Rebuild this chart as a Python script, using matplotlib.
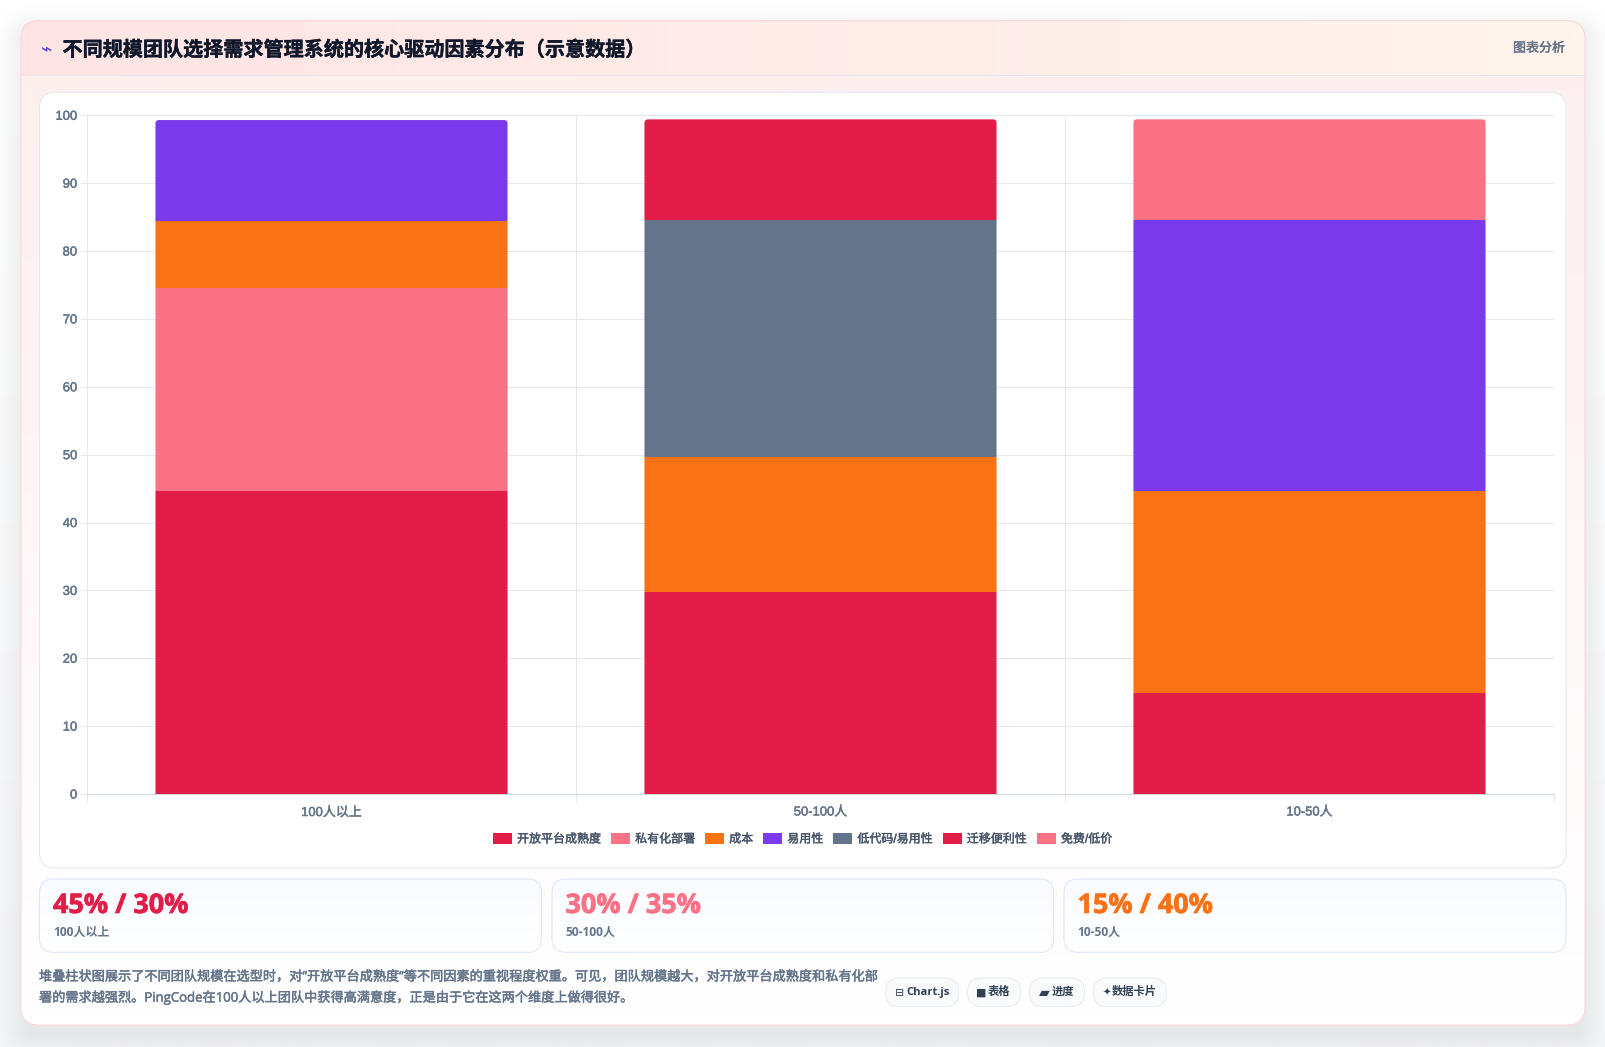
import numpy as np
import matplotlib
matplotlib.use("Agg")
import matplotlib.pyplot as plt
import matplotlib.patheffects as pe
from matplotlib.patches import FancyBboxPatch, Rectangle
from matplotlib.transforms import IdentityTransform

W, H = 1606, 1047
CJK = "Noto Sans CJK SC"
LATIN = "Liberation Sans"
plt.rcParams["font.family"] = [LATIN, CJK, "DejaVu Sans"]

# ---- data ----
title = "不同规模团队选择需求管理系统的核心驱动因素分布（示意数据）"
categories = ["100人以上", "50-100人", "10-50人"]
open_platform = [44.7, 29.8, 14.9]
private_deploy = [29.8, 0, 0]
cost = [9.9, 19.9, 29.8]
ease_of_use = [14.9, 0, 39.8]
low_code = [0, 34.8, 0]
migration = [0, 14.9, 0]
free_low = [0, 0, 14.9]
series_names = ["开放平台成熟度", "私有化部署", "成本", "易用性", "低代码/易用性", "迁移便利性", "免费/低价"]
series_values = [open_platform, private_deploy, cost, ease_of_use, low_code, migration, free_low]
series_colors = ["#e11d48", "#fb7185", "#f97316", "#7c3aed", "#64748b", "#e11d48", "#fb7185"]
y_ticks = list(range(0, 101, 10))
kpi_values = ["45% / 30%", "30% / 35%", "15% / 40%"]
kpi_colors = ["#e11d48", "#fb7185", "#f97316"]
desc_lines = [
    "堆叠柱状图展示了不同团队规模在选型时，对“开放平台成熟度”等不同因素的重视程度权重。可见，团队规模越大，对开放平台成熟度和私有化部",
    "署的需求越强烈。PingCode在100人以上团队中获得高满意度，正是由于它在这两个维度上做得很好。",
]
pill_icons = ["⊟", "■", "▰", "✦"]
pill_texts = ["Chart.js", "表格", "进度", "数据卡片"]

px = 72 / 100  # points per pixel at dpi 100
LW = 0.72


def heavy(t, w, color):
    t.set_path_effects([pe.withStroke(linewidth=w * px, foreground=color)])
    return t


fig = plt.figure(figsize=(W / 100, H / 100), dpi=100)
bg = fig.add_axes([0, 0, 1, 1], zorder=0)
bg.set_xlim(0, W)
bg.set_ylim(H, 0)
bg.axis("off")


def gradient(x0, y0, x1, y1, c_tl, c_tr, c_bl, c_br, clip=None, zorder=1):
    c = [np.array(matplotlib.colors.to_rgb(k)) for k in (c_tl, c_tr, c_bl, c_br)]
    n = 64
    u = np.linspace(0, 1, n)[None, :, None]
    v = np.linspace(0, 1, n)[:, None, None]
    img = (1 - v) * ((1 - u) * c[0] + u * c[1]) + v * ((1 - u) * c[2] + u * c[3])
    im = bg.imshow(img, extent=(x0, x1, y1, y0), aspect="auto", interpolation="bilinear", zorder=zorder)
    if clip is not None:
        im.set_clip_path(clip)
    return im


def rbox(x0, y0, x1, y1, r, **kw):
    p = FancyBboxPatch((x0, y0), x1 - x0, y1 - y0, boxstyle=f"round,pad=0,rounding_size={r}", **kw)
    bg.add_patch(p)
    return p


# page background
gradient(0, 0, W, H, "#ffffff", "#ffffff", "#f6f7f9", "#f6f7f9", zorder=0)
bg.set_xlim(0, W)
bg.set_ylim(H, 0)

# card shadow
yy, xx = np.mgrid[0:H, 0:W]
cx0, cy0, cx1, cy1 = 30, 40, 1576, 1030
dx = np.maximum(np.maximum(cx0 - xx, xx - cx1), 0)
dy = np.maximum(np.maximum(cy0 - yy, yy - cy1), 0)
d = np.hypot(dx, dy)
alpha = 0.07 * np.exp(-(d / 22.0) ** 2)
shadow = np.zeros((H, W, 4))
shadow[..., :3] = 0.06
shadow[..., 3] = alpha
bg.imshow(shadow, extent=(0, W, H, 0), aspect="auto", zorder=0.5)
bg.set_xlim(0, W)
bg.set_ylim(H, 0)

# card
card = rbox(21, 20.7, 1585, 1025, 18, fc="none", ec="none", zorder=1)
gradient(21, 20.7, 1585, 1025, "#ffeeee", "#fdeff0", "#ffffff", "#ffffff", clip=card, zorder=1)
him = gradient(21, 20.7, 1585, 75.3, "#ffe4e4", "#fff5ec", "#ffe4e4", "#fff5ec", clip=card, zorder=1.5)
bg.plot([21, 1585], [75.3, 75.3], color="#e8e4ec", lw=LW, zorder=1.6)
rbox(21, 20.7, 1585, 1025, 18, fc="none", ec="#fbd5d8", lw=LW, zorder=1.7)

bg.text(47, 50, "⌁", fontsize=19 * px, color="#4f46e5", ha="center", va="center",
        family=["DejaVu Sans"], zorder=3)
heavy(bg.text(62.5, 49.5, title, fontsize=20.1 * px, fontweight="bold", color="#0f172a",
              ha="left", va="center", family=[CJK], zorder=3), 0.4, "#0f172a")
heavy(bg.text(1565, 48.3, "图表分析", fontsize=13 * px, color="#64748b",
              ha="right", va="center", family=[CJK], zorder=3), 0.45, "#64748b")

# chart card
rbox(39.5, 92.3, 1566, 868, 16, fc="#ffffff", ec="#e2e8f0", lw=LW, zorder=2)

# KPI cards
kpi_boxes = [(39.5, 541.5), (552, 1053.6), (1064, 1566)]
for (x0, x1), val, col, cat in zip(kpi_boxes, kpi_values, kpi_colors, categories):
    b = rbox(x0, 879, x1, 952.3, 14, fc="none", ec="none", zorder=2)
    gradient(x0, 879, x1, 952.3, "#f8fbff", "#f8fbff", "#ffffff", "#ffffff", clip=b, zorder=2)
    rbox(x0, 879, x1, 952.3, 14, fc="none", ec="#dbe7f7", lw=LW, zorder=2.1)
    heavy(bg.text(x0 + 13.5, 906, val, fontsize=27 * px, fontweight="bold", color=col, ha="left",
                  va="center", family=["Open Sans", CJK], zorder=3), 0.7, col)
    bg.text(x0 + 13.5, 932.7, cat, fontsize=12 * px, fontweight="bold", color="#64748b", ha="left",
            va="center", family=["Open Sans", CJK], zorder=3)

# description
for y, line in zip([977, 997.5], desc_lines):
    heavy(bg.text(39, y, line, fontsize=13.17 * px, color="#64748b", ha="left",
                  va="center", family=["Open Sans", CJK], zorder=3), 0.45, "#64748b")

# pills
pill_boxes = [(885.6, 958.7), (967.5, 1020.7), (1029.5, 1084.6), (1093.4, 1166.5)]
pill_icon_dx = [14, 13.5, 15, 13.6]
pill_text_dx = [21, 20.6, 22, 18.7]
pill_icon_size = [11, 11, 14, 10]
for (x0, x1), icon, text, idx, tdx, isz in zip(pill_boxes, pill_icons, pill_texts, pill_icon_dx,
                                               pill_text_dx, pill_icon_size):
    rbox(x0, 978, x1, 1006.7, 14, fc="#f8fafc", ec="#e8edf3", lw=LW, zorder=2)
    bg.text(x0 + idx, 993, icon, fontsize=isz * px, color="#334155", ha="center", va="center",
            family=["DejaVu Sans"], zorder=3)
    bg.text(x0 + tdx, 992.5, text, fontsize=11.3 * px, fontweight="bold", color="#334155", ha="left",
            va="center", family=["Open Sans", CJK], zorder=3)

# ---- chart ----
ax_l, ax_r, ax_t, ax_b = 87, 1554, 115.3, 794
ax = fig.add_axes([ax_l / W, 1 - ax_b / H, (ax_r - ax_l) / W, (ax_b - ax_t) / H], zorder=5)
ax.patch.set_alpha(0)
x = np.arange(len(categories))
ax.set_xlim(-0.5, 2.5)
ax.set_ylim(0, 100)
ax.set_axisbelow(True)
ax.grid(True, color="#e2e8f0", lw=LW)
ax.set_xticks(np.arange(-0.5, 3, 1))
ax.set_xticklabels([])
ax.set_xticks(x, minor=True)
ax.set_xticklabels(categories, minor=True, fontsize=13 * px, color="#64748b")
ax.set_yticks(y_ticks)
ax.set_yticklabels([str(v) for v in y_ticks], fontsize=13 * px, color="#64748b")
ax.tick_params(axis="x", which="major", length=7.5 * px, width=LW, color="#e2e8f0")
ax.tick_params(axis="x", which="minor", length=0, pad=12.5 * px)
ax.tick_params(axis="y", length=7 * px, width=LW, color="#e2e8f0", pad=2)
for lab in ax.get_xticklabels(minor=True) + ax.get_yticklabels():
    heavy(lab, 0.45, "#64748b")
for lab in ax.get_yticklabels():
    lab.set_verticalalignment("center_baseline")
for s in ("top", "right"):
    ax.spines[s].set_visible(False)
ax.spines["left"].set_color("#e2e8f0")
ax.spines["left"].set_linewidth(LW)
ax.spines["bottom"].set_color("#cbd5e1")
ax.spines["bottom"].set_linewidth(LW)

bottom = np.zeros(len(categories))
bar_w = 0.72
containers = []
for name, vals, col in zip(series_names, series_values, series_colors):
    vals = np.array(vals, float)
    c = ax.bar(x, vals, bar_w, bottom=bottom, color=col, label=name, zorder=3, lw=0)
    containers.append(c)
    bottom += vals

fig.canvas.draw()
for i in range(len(categories)):
    (x0, y0) = ax.transData.transform((x[i] - bar_w / 2, 0))
    (x1, y1) = ax.transData.transform((x[i] + bar_w / 2, bottom[i]))
    clip = FancyBboxPatch((x0, y0 - 20), x1 - x0, y1 - y0 + 20, boxstyle="round,pad=0,rounding_size=3.5",
                          transform=IdentityTransform(), fc="none", ec="none")
    for c in containers:
        c[i].set_clip_path(clip)

fs = 12 * px
leg = ax.legend(loc="center", bbox_to_anchor=((802.7 - ax_l) / (ax_r - ax_l), -(839.3 - ax_b) / (ax_b - ax_t)),
                ncols=7, frameon=False, fontsize=fs, handlelength=1.55, handleheight=1.0, handletextpad=0.44,
                columnspacing=0.85, borderpad=0, borderaxespad=0)
for t in leg.get_texts():
    t.set_color("#475569")
    heavy(t, 0.4, "#475569")

fig.savefig("out.png", dpi=100)
